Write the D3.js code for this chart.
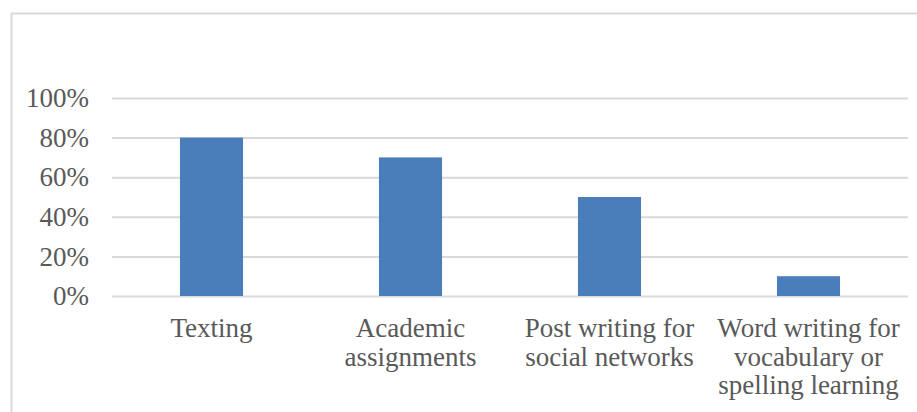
<!DOCTYPE html>
<html>
<head>
<meta charset="utf-8">
<script src="https://cdn.jsdelivr.net/npm/d3@7"></script>
<style>
  html, body { margin: 0; padding: 0; background: #fff; }
  svg { display: block; }
</style>
</head>
<body>
<div id="chart"></div>
<script>
// Data
const categories = [
  ["Texting"],
  ["Academic", "assignments"],
  ["Post writing for", "social networks"],
  ["Word writing for", "vocabulary or", "spelling learning"]
];
const values = [0.80, 0.70, 0.50, 0.10];
const yTicks = [0, 0.2, 0.4, 0.6, 0.8, 1.0];

const FONT = '"Liberation Serif", "Times New Roman", serif';
const TEXT_COLOR = "#595959";

const width = 917, height = 412;
const m = { top: 98, right: 9, bottom: 116, left: 112 };

const svg = d3.select("#chart").append("svg")
  .attr("width", width)
  .attr("height", height);

// outer frame (only left + top edge visible in the crop)
svg.append("path")
  .attr("d", `M11.5,${height} V13.5 H${width}`)
  .attr("fill", "none")
  .attr("stroke", "#d9d9d9")
  .attr("stroke-width", 2);

const keys = categories.map(d => d.join(" "));

const x = d3.scaleBand()
  .domain(keys)
  .range([m.left, width - m.right])
  .paddingInner(0.683)
  .paddingOuter(0.683 / 2);

const y = d3.scaleLinear()
  .domain([0, 1])
  .range([height - m.bottom, m.top]);

// ----- gridlines + y labels -----
const yAxis = svg.append("g")
  .attr("transform", `translate(${m.left},0)`)
  .call(
    d3.axisLeft(y)
      .tickValues(yTicks)
      .tickFormat(d3.format(".0%"))
      .tickSize(-(width - m.left - m.right))
      .tickPadding(23)
  );

yAxis.select(".domain").remove();
yAxis.selectAll(".tick line")
  .attr("stroke", "#d9d9d9")
  .attr("stroke-width", 2);
yAxis.selectAll("text")
  .style("font-family", FONT)
  .style("font-size", "27px")
  .attr("fill", TEXT_COLOR);

// ----- bars -----
svg.append("g")
  .selectAll("rect")
  .data(values)
  .join("rect")
  .attr("x", (d, i) => x(keys[i]))
  .attr("y", d => y(d))
  .attr("width", x.bandwidth())
  .attr("height", d => y(0) - y(d))
  .attr("fill", "#4a7ebb");

// ----- category labels (multi-line) -----
const lineH = 28.5;
const catLabels = svg.append("g")
  .selectAll("text")
  .data(categories)
  .join("text")
  .attr("x", (d, i) => x(keys[i]) + x.bandwidth() / 2)
  .attr("y", 337)
  .attr("text-anchor", "middle")
  .style("font-family", FONT)
  .style("font-size", "27px")
  .attr("fill", TEXT_COLOR);

catLabels.selectAll("tspan")
  .data(d => d)
  .join("tspan")
  .attr("x", function () { return this.parentNode.getAttribute("x"); })
  .attr("dy", (d, i) => i === 0 ? 0 : lineH)
  .text(d => d);
</script>
</body>
</html>
